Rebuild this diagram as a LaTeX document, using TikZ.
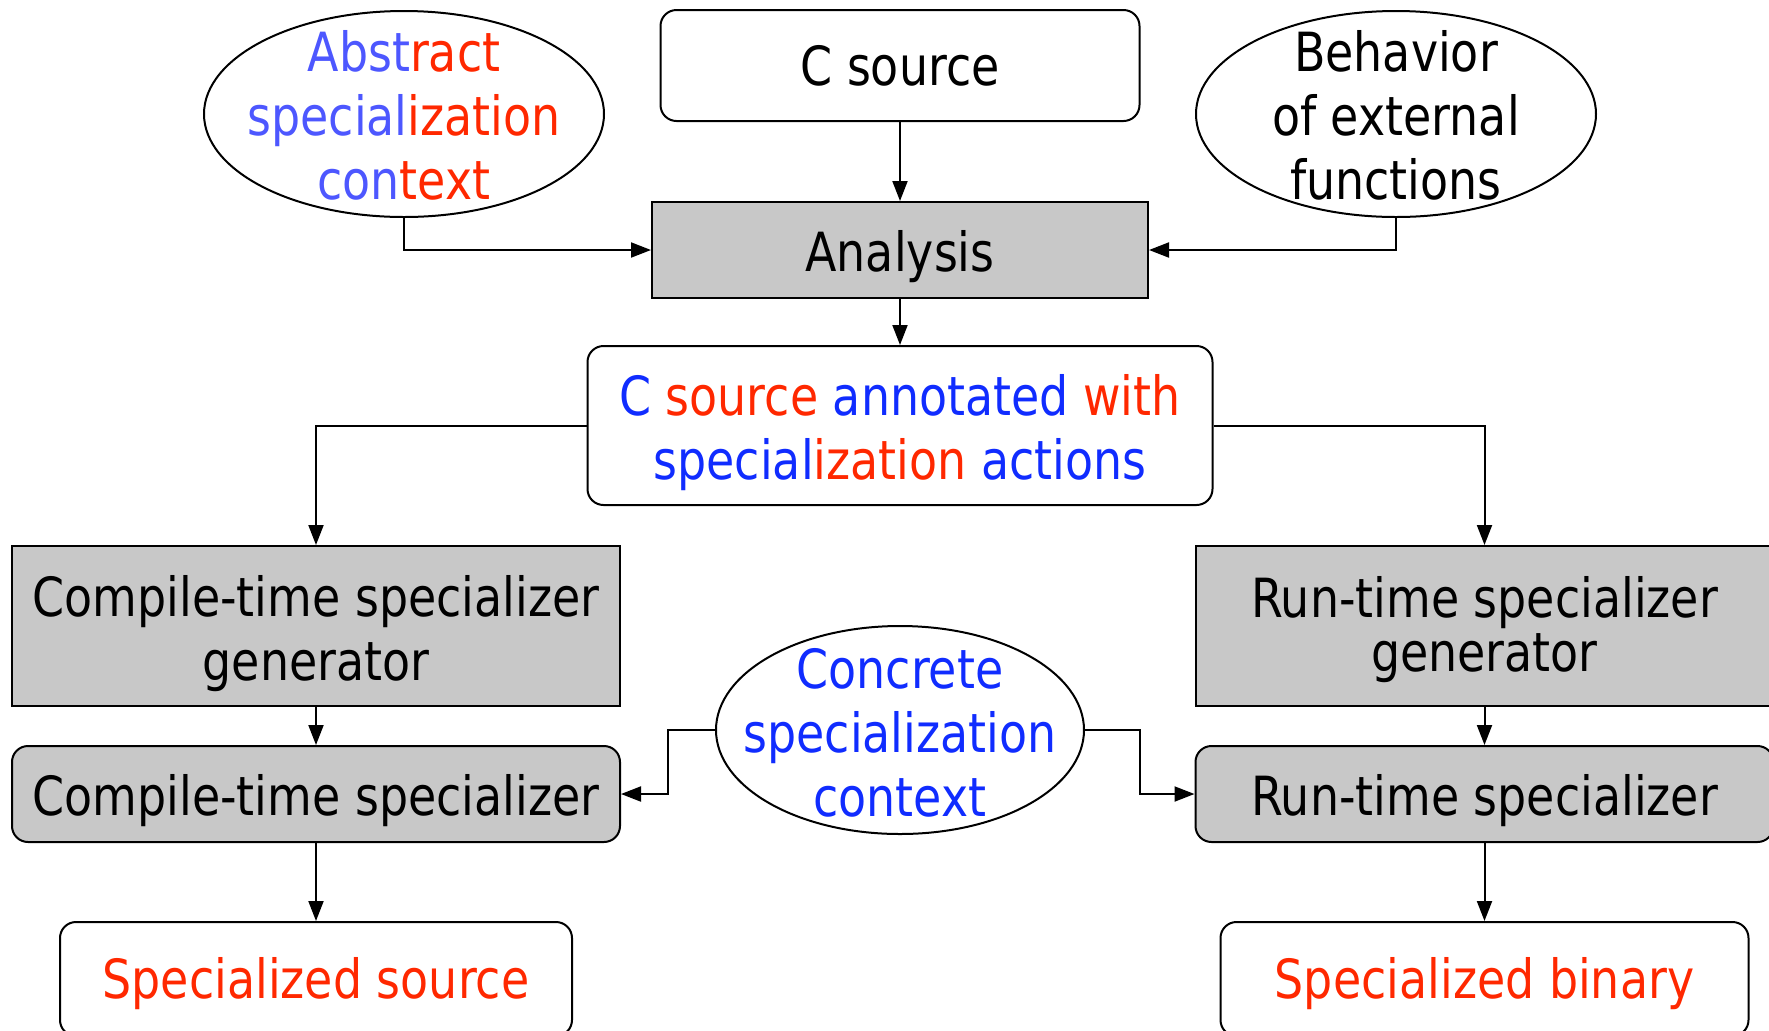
\documentclass[tikz,border=0pt]{standalone}
\usepackage{fontspec}
\setmainfont[FakeStretch=0.85]{DejaVu Sans}
\usetikzlibrary{arrows.meta,positioning,calc,shapes.geometric}
\definecolor{paleblue}{RGB}{77,87,255}
\definecolor{deepblue}{RGB}{16,44,255}
\definecolor{hotred}{RGB}{255,40,0}
\definecolor{toolgray}{RGB}{200,200,200}
\newcommand{\bl}[1]{\textcolor{deepblue}{#1}}
\newcommand{\rd}[1]{\textcolor{hotred}{#1}}
\newcommand{\tall}[1]{\rule{0pt}{#1}}

\begin{document}
\begin{tikzpicture}[x=50pt,y=50pt,>={Triangle[length=10pt,width=7.5pt]},
every node/.style={font=\fontsize{27}{32}\selectfont},
plain/.style={draw,line width=1pt,rounded corners=8pt,align=center,inner sep=3pt},
tool/.style={plain,rounded corners=0pt,fill=toolgray},
stage/.style={plain,fill=toolgray},
oval/.style={draw,line width=1pt,ellipse,inner sep=0pt},
oval text/.style={align=center,yshift=-0.5pt},
flow/.style={->,line width=1pt}]
\useasboundingbox (0,0) rectangle (17.69,-10.30);
\node[oval,minimum width=200pt,minimum height=103pt,
label={[oval text]center:{\textcolor{paleblue}{Abst}\rd{ract}\\\textcolor{paleblue}{special}\rd{ization}\\\textcolor{paleblue}{con}\rd{text}}}] (abs) at (4.04,-1.14) {};
\node[plain,minimum width=239.5pt,minimum height=55.5pt] (csrc) at (9.00,-0.655) {C source};
\node[oval,minimum width=200pt,minimum height=103pt,
label={[oval text]center:{Behavior\\of external\\functions}}] (beh) at (13.96,-1.14) {};
\node[tool,minimum width=248pt,minimum height=48pt] (ana) at (9.00,-2.50) {\tall{27.5pt}Analysis};
\node[plain,minimum width=312.5pt,minimum height=79.5pt] (annot) at (9.00,-4.255)
{\tall{28pt}\bl{C} \rd{source} \bl{annotated} \rd{with}\\\bl{special}\rd{ization} \bl{actions}};
\node[tool,minimum width=304pt,minimum height=80pt] (cgen) at (3.16,-6.26) {\tall{28pt}Compile-time specializer\\generator};
\node[tool,minimum width=289pt,minimum height=80pt] (rgen) at (14.845,-6.26)
{\tall{24pt}Run-time specializer\\[-5pt]generator};
\node[stage,minimum width=304pt,minimum height=48pt] (cspec) at (3.16,-7.94) {\tall{27.5pt}Compile-time specializer};
\node[stage,minimum width=289pt,minimum height=48pt] (rspec) at (14.845,-7.94) {\tall{27.5pt}Run-time specializer};
\node[oval,minimum width=184pt,minimum height=104pt,
label={[oval text,yshift=-1pt,text=deepblue]center:{Concrete\\specialization\\context}}] (conc) at (9.00,-7.30) {};
\node[plain,minimum width=256pt,minimum height=57pt] (ssrc) at (3.16,-9.79) {\tall{25pt}\rd{Specialized source}};
\node[plain,minimum width=264pt,minimum height=57pt] (sbin) at (14.845,-9.79) {\tall{25pt}\rd{Specialized binary}};
\draw[flow] (csrc)--(ana);
\draw[flow] (abs.south) |- (ana.west);
\draw[flow] (beh.south) |- (ana.east);
\draw[flow] (ana)--(annot);
\draw[flow] (annot.west) -| (cgen.north);
\draw[flow] (annot.east) -| (rgen.north);
\draw[flow] (cgen)--(cspec); \draw[flow] (rgen)--(rspec);
\draw[flow] (conc.west) -- ++(-0.47,0) |- (cspec.east);
\draw[flow] (conc.east) -- ++(0.55,0) |- (rspec.west);
\draw[flow] (cspec)--(ssrc); \draw[flow] (rspec)--(sbin);
\end{tikzpicture}
\end{document}
